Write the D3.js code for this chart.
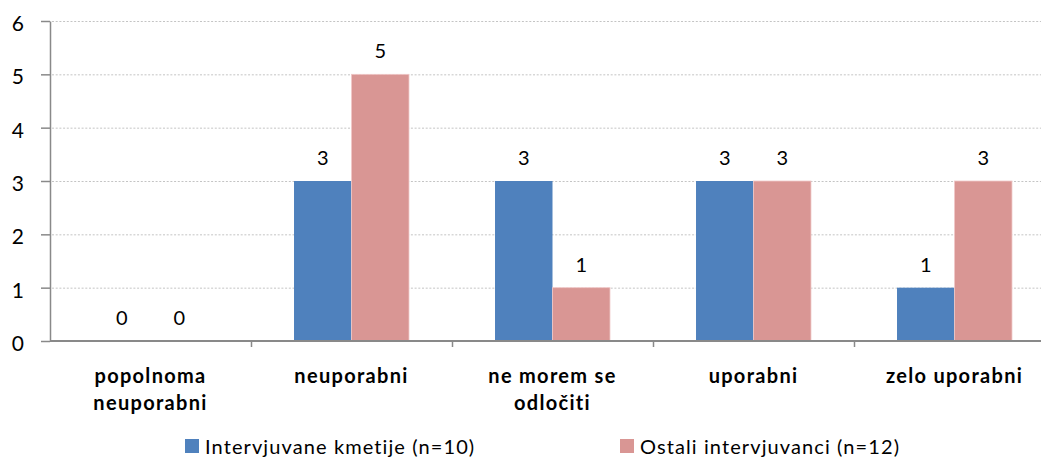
<!DOCTYPE html>
<html>
<head>
<meta charset="utf-8">
<script src="https://cdn.jsdelivr.net/npm/d3@7"></script>
<style>
  body { margin: 0; background: #fff; }
  svg { display: block; font-family: Lato, "Open Sans", sans-serif; }
</style>
</head>
<body>
<svg width="1041" height="459"></svg>
<script>
const categories = ["popolnoma neuporabni", "neuporabni", "ne morem se odločiti", "uporabni", "zelo uporabni"];
const categoryLines = [["popolnoma", "neuporabni"], ["neuporabni"], ["ne morem se", "odločiti"], ["uporabni"], ["zelo uporabni"]];
const seriesNames = ["Intervjuvane kmetije (n=10)", "Ostali intervjuvanci (n=12)"];
const kmetije = [0, 3, 3, 3, 1];
const ostali = [0, 5, 1, 3, 3];
const yTicks = [0, 1, 2, 3, 4, 5, 6];
const colors = ["#4f81bd", "#d99694"];

const svg = d3.select("svg");
const axisColor = "#898989";

const x = d3.scaleBand()
  .domain(categories)
  .range([50, 1055])
  .paddingInner(0.428)
  .paddingOuter(0.214);

const x1 = d3.scaleBand()
  .domain(seriesNames)
  .range([0, x.bandwidth()]);

const y = d3.scaleLinear().domain([0, 6]).range([341, 21]);

// grid lines
svg.append("g")
  .selectAll("line")
  .data(yTicks.filter((d) => d > 0))
  .enter()
  .append("line")
  .attr("x1", 52)
  .attr("x2", 1041)
  .attr("y1", (d) => y(d) + 0.5)
  .attr("y2", (d) => y(d) + 0.5)
  .attr("stroke", "#c4c4c4")
  .attr("stroke-width", 1)
  .attr("stroke-dasharray", "2,1.7");

// y axis
const yAxis = d3.axisLeft(y)
  .tickValues(yTicks)
  .tickFormat(d3.format("d"))
  .tickSize(9)
  .tickPadding(17)
  .tickSizeOuter(0);
const yAxisG = svg.append("g").attr("transform", "translate(50,0)").call(yAxis);
yAxisG.select(".domain").attr("stroke", axisColor).attr("stroke-width", 1.5);
yAxisG.selectAll(".tick line").attr("stroke", axisColor).attr("stroke-width", 1.5);
yAxisG.selectAll(".tick text")
  .attr("fill", "#000")
  .attr("font-size", 21)
  .attr("font-family", "Lato, sans-serif")
  .attr("dy", "0.45em");

// bars
const rows = categories.map((c, i) => ({ cat: c, values: [kmetije[i], ostali[i]] }));

const groups = svg.append("g")
  .selectAll("g")
  .data(rows)
  .enter()
  .append("g")
  .attr("transform", (d) => `translate(${x(d.cat)},0)`);

groups.selectAll("rect")
  .data((d) => d.values.map((v, j) => ({ name: seriesNames[j], v: v, j: j })))
  .enter()
  .append("rect")
  .attr("x", (d) => x1(d.name))
  .attr("width", x1.bandwidth())
  .attr("y", (d) => y(d.v))
  .attr("height", (d) => y(0) - y(d.v))
  .attr("fill", (d) => colors[d.j])
  .attr("stroke", (d) => (d.j === 1 ? "#f0c8c8" : "none"))
  .attr("stroke-width", 0.8);

groups.selectAll("text")
  .data((d) => d.values.map((v, j) => ({ name: seriesNames[j], v: v })))
  .enter()
  .append("text")
  .attr("x", (d) => x1(d.name) + x1.bandwidth() / 2)
  .attr("y", (d) => y(d.v) - 16)
  .attr("text-anchor", "middle")
  .attr("font-size", 20)
  .attr("fill", "#000")
  .text((d) => d.v);

// x axis
const xAxisG = svg.append("g");
xAxisG.append("line")
  .attr("x1", 50)
  .attr("x2", 1041)
  .attr("y1", y(0))
  .attr("y2", y(0))
  .attr("stroke", axisColor)
  .attr("stroke-width", 2);

const bounds = d3.range(categories.length + 1).map((i) => x.range()[0] + i * x.step());
xAxisG.selectAll(".xtick")
  .data(bounds.slice(1))
  .enter()
  .append("line")
  .attr("class", "xtick")
  .attr("x1", (d) => d + 0.5)
  .attr("x2", (d) => d + 0.5)
  .attr("y1", y(0))
  .attr("y2", y(0) + 6)
  .attr("stroke", axisColor)
  .attr("stroke-width", 1.5);

const labels = xAxisG.selectAll(".xlabel")
  .data(categories)
  .enter()
  .append("text")
  .attr("class", "xlabel")
  .attr("x", (d) => x(d) + x.bandwidth() / 2)
  .attr("y", 383)
  .attr("text-anchor", "middle")
  .attr("font-size", 20)
  .attr("font-weight", "bold")
  .attr("letter-spacing", 1.3)
  .attr("fill", "#000");

labels.each(function (d, i) {
  const t = d3.select(this);
  categoryLines[i].forEach((line, k) => {
    t.append("tspan")
      .attr("x", x(d) + x.bandwidth() / 2)
      .attr("dy", k === 0 ? 0 : 27)
      .text(line);
  });
});

// legend
const legendX = [185, 620];
const legend = svg.append("g")
  .selectAll("g")
  .data(seriesNames)
  .enter()
  .append("g")
  .attr("transform", (d, i) => `translate(${legendX[i]},439)`);

legend.append("rect")
  .attr("width", 14)
  .attr("height", 14)
  .attr("fill", (d, i) => colors[i]);

legend.append("text")
  .attr("x", 20)
  .attr("y", 15)
  .attr("font-size", 20)
  .attr("letter-spacing", 1.1)
  .attr("fill", "#000")
  .text((d) => d);
</script>
</body>
</html>
